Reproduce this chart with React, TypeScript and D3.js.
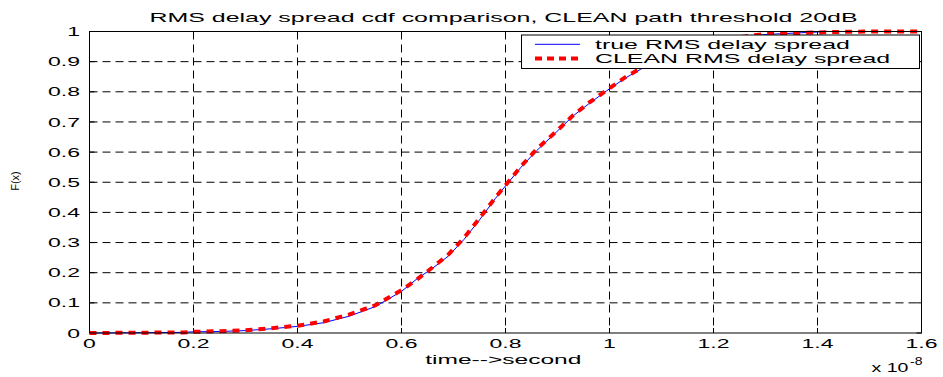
import React from "react";
import * as d3 from "d3";

const xTicks = [0, 0.2, 0.4, 0.6, 0.8, 1.0, 1.2, 1.4, 1.6];
const xTickLabels = ["0", "0.2", "0.4", "0.6", "0.8", "1", "1.2", "1.4", "1.6"];
const yTicks = [0, 0.1, 0.2, 0.3, 0.4, 0.5, 0.6, 0.7, 0.8, 0.9, 1.0];
const yTickLabels = ["0", "0.1", "0.2", "0.3", "0.4", "0.5", "0.6", "0.7", "0.8", "0.9", "1"];

// time in units of 1e-8 s
const timeVals = [0, 0.1, 0.18, 0.2, 0.25, 0.3, 0.35, 0.4, 0.45, 0.5, 0.55, 0.6, 0.63, 0.66, 0.69, 0.72, 0.75, 0.78, 0.8, 0.83, 0.86, 0.9, 0.93, 0.96, 1.0, 1.03, 1.06, 1.1, 1.15, 1.2, 1.25, 1.3, 1.37, 1.42, 1.5, 1.6];
const trueCdf = [0, 0.001, 0.002, 0.004, 0.005, 0.008, 0.014, 0.022, 0.034, 0.056, 0.088, 0.138, 0.18, 0.215, 0.255, 0.31, 0.375, 0.445, 0.488, 0.55, 0.605, 0.67, 0.72, 0.76, 0.81, 0.845, 0.875, 0.91, 0.945, 0.965, 0.98, 0.99, 0.996, 1.0, 1.0, 1.0];
const cleanCdf = [0, 0.001, 0.002, 0.004, 0.006, 0.009, 0.016, 0.024, 0.038, 0.062, 0.092, 0.142, 0.178, 0.218, 0.26, 0.315, 0.38, 0.448, 0.49, 0.553, 0.61, 0.672, 0.722, 0.763, 0.812, 0.848, 0.878, 0.912, 0.947, 0.967, 0.981, 0.992, 0.995, 0.998, 1.0, 1.0];

const titleText = "RMS delay spread cdf comparison, CLEAN path threshold 20dB";
const xLabelText = "time-->second";
const yLabelText = "F(x)";
const legendLabels = ["true RMS delay spread", "CLEAN RMS delay spread"];

const FONT = "'Liberation Sans', Arial, Helvetica, sans-serif";

function SText({ x, y, sx, size, anchor, children }: any) {
  return (
    <text
      transform={`translate(${x},${y}) scale(${sx},1)`}
      textAnchor={anchor || "start"}
      fontSize={size}
      fontFamily={FONT}
      fill="#000"
    >
      {children}
    </text>
  );
}

export default function App() {
  const W = 943, H = 377;
  const x = d3.scaleLinear().domain([0, 1.6]).range([89.5, 921.5]);
  const y = d3.scaleLinear().domain([0, 1]).range([333, 31.5]);
  const x0 = x(0), x1 = x(1.6), y0 = y(0), y1 = y(1);

  const trueData = timeVals.map((t, i) => [t, trueCdf[i]] as [number, number]);
  const cleanData = timeVals.map((t, i) => [t, cleanCdf[i]] as [number, number]);
  const line = d3.line<[number, number]>().x((d) => x(d[0])).y((d) => y(d[1]));

  const tickLen = 5;

  return (
    <svg width={W} height={H} style={{ position: "absolute", left: 0, top: 0, background: "#fff" }}>
      <rect x={0} y={0} width={W} height={H} fill="#fff" />
      {/* grid */}
      {xTicks.slice(1, -1).map((t) => (
        <line key={"gx" + t} x1={x(t)} x2={x(t)} y1={y1} y2={y0} stroke="#000" strokeWidth={1} strokeDasharray="8,5" />
      ))}
      {yTicks.slice(1, -1).map((t) => (
        <line key={"gy" + t} x1={x0} x2={x1} y1={y(t)} y2={y(t)} stroke="#000" strokeWidth={1} strokeDasharray="8,5" />
      ))}
      {/* ticks */}
      {xTicks.map((t) => (
        <g key={"tx" + t}>
          <line x1={x(t)} x2={x(t)} y1={y0} y2={y0 - tickLen} stroke="#000" />
          <line x1={x(t)} x2={x(t)} y1={y1} y2={y1 + tickLen} stroke="#000" />
        </g>
      ))}
      {yTicks.map((t) => (
        <g key={"ty" + t}>
          <line x1={x0} x2={x0 + tickLen} y1={y(t)} y2={y(t)} stroke="#000" />
          <line x1={x1} x2={x1 - tickLen} y1={y(t)} y2={y(t)} stroke="#000" />
        </g>
      ))}
      {/* curves */}
      <path d={line(trueData) || ""} fill="none" stroke="#0000ff" strokeWidth={1} />
      <path d={line(cleanData) || ""} fill="none" stroke="#ff0000" strokeWidth={4} strokeDasharray="7,6" />
      {/* box */}
      <rect x={x0} y={y1} width={x1 - x0} height={y0 - y1} fill="none" stroke="#000" strokeWidth={1} />
      {/* tick labels */}
      {xTicks.map((t, i) => (
        <SText key={"lx" + t} x={x(t)} y={347.5} sx={1.77} size={13} anchor="middle">
          {xTickLabels[i]}
        </SText>
      ))}
      {yTicks.map((t, i) => (
        <SText key={"ly" + t} x={80} y={y(t) + 4.6} sx={1.77} size={13} anchor="end">
          {yTickLabels[i]}
        </SText>
      ))}
      {/* title & labels */}
      <SText x={503.5} y={22} sx={1.92} size={13} anchor="middle">{titleText}</SText>
      <SText x={503.3} y={363.5} sx={1.89} size={13} anchor="middle">{xLabelText}</SText>
      <SText x={871.5} y={372} sx={1.5} size={13} anchor="start">x 10</SText>
      <SText x={910} y={365} sx={1.4} size={10} anchor="start">-8</SText>
      <text
        transform="translate(19,181) rotate(-90)"
        textAnchor="middle"
        fontSize={11}
        fontFamily={FONT}
        fill="#000"
      >
        {yLabelText}
      </text>
      {/* legend */}
      <rect x={521.5} y={35} width={398} height={33.5} fill="#fff" stroke="#000" strokeWidth={1} />
      <line x1={535} x2={580} y1={44.3} y2={44.3} stroke="#0000ff" strokeWidth={1} />
      <line x1={535} x2={580} y1={58.5} y2={58.5} stroke="#ff0000" strokeWidth={4} strokeDasharray="7,5" />
      <SText x={595} y={48.5} sx={1.92} size={13}>{legendLabels[0]}</SText>
      <SText x={595} y={62.5} sx={1.92} size={13}>{legendLabels[1]}</SText>
    </svg>
  );
}
